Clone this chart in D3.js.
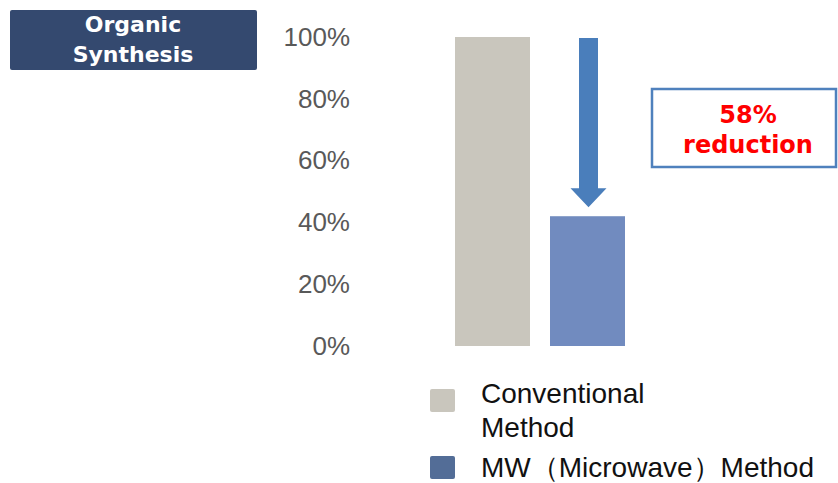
<!DOCTYPE html>
<html>
<head>
<meta charset="utf-8">
<script src="https://cdn.jsdelivr.net/npm/d3@7"></script>
<style>
  body { margin: 0; background: #fff; }
  svg { display: block; font-family: "Liberation Sans", Arial, sans-serif; }
</style>
</head>
<body>
<svg></svg>
<script>
let width = 838,
  height = 483;

// data
const categories = ["Conventional Method", "MW（Microwave）Method"];
const values = [1.0, 0.42];
const yTicks = [0, 0.2, 0.4, 0.6, 0.8, 1.0];
const legendLines = [["Conventional", "Method"], ["MW（Microwave）Method"]];
const reductionText = ["58%", "reduction"];

const barColors = ["#c9c6bd", "#718bbf"];
const legendColors = ["#c9c6bd", "#536d97"];

let svg = d3.select("svg").attr("width", width).attr("height", height)
  .attr("viewBox", "0 0 " + width + " " + height);

let y = d3.scaleLinear().domain([0, 1]).range([346, 37]);
let x = d3.scaleBand().domain(categories).range([445, 635])
  .paddingInner(20 / 95).paddingOuter(10 / 95);

// title box
svg.append("rect")
  .attr("x", 10).attr("y", 10).attr("width", 247).attr("height", 60)
  .attr("rx", 2).attr("fill", "#34496f");
svg.append("text")
  .attr("text-anchor", "middle")
  .attr("font-family", "'DejaVu Sans', Verdana, sans-serif")
  .attr("fill", "#fff").attr("font-weight", "bold").attr("font-size", 22)
  .selectAll("tspan")
  .data(["Organic", "Synthesis"])
  .enter()
  .append("tspan")
  .attr("x", 133)
  .attr("y", (d, i) => (i ? 62 : 32))
  .text((d) => d);

// y axis
let yAxis = svg.append("g")
  .attr("transform", "translate(350,0)")
  .call(d3.axisLeft(y).tickValues(yTicks).tickSize(0).tickPadding(0).tickFormat(d3.format(".0%")));
yAxis.select(".domain").remove();
yAxis.selectAll("text")
  .attr("font-family", "'Liberation Sans', Arial, sans-serif")
  .attr("font-size", 26)
  .attr("fill", "#595959");

// bars
svg.append("g")
  .selectAll("rect")
  .data(values)
  .enter()
  .append("rect")
  .attr("x", (d, i) => x(categories[i]))
  .attr("y", (d) => y(d))
  .attr("width", x.bandwidth())
  .attr("height", (d) => y(0) - y(d))
  .attr("fill", (d, i) => barColors[i]);

// arrow from 100% down to the MW bar
let cx = x(categories[1]) + x.bandwidth() / 2 + 1;
let arrowTop = y(values[0]) + 1;
let tip = y(values[1]) - 9;
let headTop = tip - 19;
svg.append("path")
  .attr("d",
    "M" + (cx - 9.5) + "," + arrowTop +
    "L" + (cx + 9.5) + "," + arrowTop +
    "L" + (cx + 9.5) + "," + headTop +
    "L" + (cx + 18) + "," + headTop +
    "L" + cx + "," + tip +
    "L" + (cx - 18) + "," + headTop +
    "L" + (cx - 9.5) + "," + headTop + "Z")
  .attr("fill", "#4a7ebb");

// reduction box
svg.append("rect")
  .attr("x", 652).attr("y", 89).attr("width", 184).attr("height", 78)
  .attr("fill", "#fff").attr("stroke", "#4f81bd").attr("stroke-width", 2.5);
svg.append("text")
  .attr("text-anchor", "middle")
  .attr("font-family", "'DejaVu Sans', Verdana, sans-serif")
  .attr("fill", "#ff0000").attr("font-weight", "bold").attr("font-size", 24)
  .selectAll("tspan")
  .data(reductionText)
  .enter()
  .append("tspan")
  .attr("x", 748)
  .attr("y", (d, i) => 123 + i * 30)
  .text((d) => d);

// legend
let legend = svg.append("g");
let legendY = [389, 456];
legend.selectAll("rect")
  .data(legendColors)
  .enter()
  .append("rect")
  .attr("x", 430).attr("y", (d, i) => legendY[i])
  .attr("width", 25).attr("height", 23).attr("rx", 2)
  .attr("fill", (d) => d);
legendLines.forEach((lines, i) => {
  legend.append("text")
    .attr("font-size", 28).attr("fill", "#111")
    .selectAll("tspan")
    .data(lines)
    .enter()
    .append("tspan")
    .attr("x", 481)
    .attr("y", (d, j) => [403, 477][i] + j * 34)
    .text((d) => d);
});
</script>
</body>
</html>
